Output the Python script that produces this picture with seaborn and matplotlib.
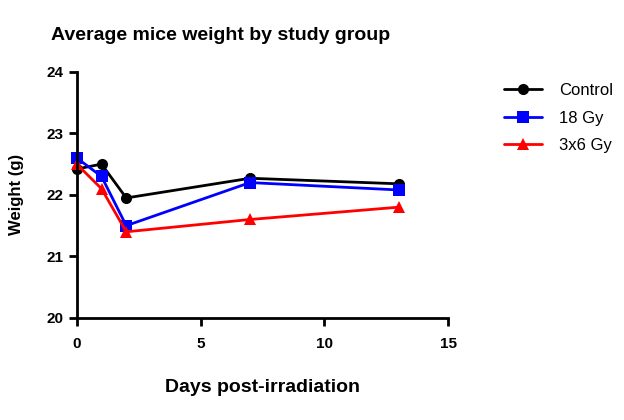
import pandas as pd
import seaborn as sns
import matplotlib.pyplot as plt

days = [0, 1, 2, 7, 13]
control = [22.42, 22.5, 21.95, 22.27, 22.18]
gy18 = [22.6, 22.3, 21.5, 22.2, 22.08]
gy3x6 = [22.5, 22.1, 21.4, 21.6, 21.8]
groups = ["Control", "18 Gy", "3x6 Gy"]

df = pd.DataFrame({
    "Day": days * 3,
    "Weight": control + gy18 + gy3x6,
    "Group": [g for g in groups for _ in days],
})

sns.set_theme(style="ticks")
plt.rcParams["font.family"] = ["Liberation Sans", "DejaVu Sans"]
plt.rcParams["text.color"] = "black"
plt.rcParams["axes.labelcolor"] = "black"

palette = {"Control": "#000000", "18 Gy": "#0000FF", "3x6 Gy": "#FF0000"}
markers = {"Control": "o", "18 Gy": "s", "3x6 Gy": "^"}

fig = plt.figure(figsize=(6.24, 4.2), dpi=100)
ax = fig.add_axes([0.123, 0.243, 0.595, 0.586])

sns.lineplot(
    data=df, x="Day", y="Weight", hue="Group", style="Group",
    palette=palette, markers=markers, dashes=False,
    linewidth=2, markersize=8, markeredgewidth=0, ax=ax,
)

ax.set_xlim(0, 15)
ax.set_ylim(20, 24)
ax.set_xticks([0, 5, 10, 15])
ax.set_yticks([20, 21, 22, 23, 24])
sns.despine(ax=ax)
for s in ["left", "bottom"]:
    ax.spines[s].set_linewidth(2)
    ax.spines[s].set_color("black")
ax.tick_params(width=2, length=6, colors="black", labelsize=11)
ax.tick_params(axis="x", pad=8)
for lab in ax.get_xticklabels() + ax.get_yticklabels():
    lab.set_fontweight("bold")
for line in ax.lines:
    line.set_clip_on(False)

ax.set_xlabel("Days post-irradiation", fontsize=14, fontweight="bold", labelpad=20)
ax.set_ylabel("Weight (g)", fontsize=12, fontweight="bold", labelpad=16)
ax.set_title("Average mice weight by study group",
             fontsize=14, fontweight="bold", pad=23, loc="left", x=-0.07)

leg = ax.legend(title=None, frameon=False, loc="upper left",
                bbox_to_anchor=(1.11, 1.015), fontsize=12, handlelength=2.3,
                handletextpad=1.0, labelspacing=0.75)

fig.savefig("out.png", dpi=100)
